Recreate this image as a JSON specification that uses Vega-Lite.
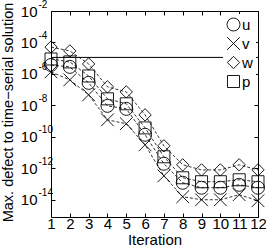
{
  "$schema": "https://vega.github.io/schema/vega-lite/v6.json",
  "width": 207,
  "height": 206,
  "autosize": "none",
  "padding": {"left": 51, "top": 11, "right": 8, "bottom": 29},
  "background": "white",
  "config": {
    "view": {"stroke": "black", "strokeWidth": 1},
    "font": "Liberation Sans",
    "axis": {"domain": false, "grid": false, "tickColor": "black", "labelColor": "black", "titleColor": "black", "labelFont": "Liberation Sans", "titleFont": "Liberation Sans", "titleFontWeight": "normal"}
  },
  "datasets": {
    "d": [
      {"iter": 1, "series": "u", "val": 3.7e-6}, {"iter": 2, "series": "u", "val": 2.8e-6}, {"iter": 3, "series": "u", "val": 2.7e-7}, {"iter": 4, "series": "u", "val": 9.3e-9}, {"iter": 5, "series": "u", "val": 6.0e-9}, {"iter": 6, "series": "u", "val": 1.35e-10}, {"iter": 7, "series": "u", "val": 1.95e-12}, {"iter": 8, "series": "u", "val": 1.2e-13}, {"iter": 9, "series": "u", "val": 5.8e-14}, {"iter": 10, "series": "u", "val": 5.8e-14}, {"iter": 11, "series": "u", "val": 8.9e-14}, {"iter": 12, "series": "u", "val": 5.8e-14},
      {"iter": 1, "series": "v", "val": 1.35e-6}, {"iter": 2, "series": "v", "val": 4.2e-7}, {"iter": 3, "series": "v", "val": 4.7e-8}, {"iter": 4, "series": "v", "val": 1.2e-9}, {"iter": 5, "series": "v", "val": 6.8e-10}, {"iter": 6, "series": "v", "val": 3.1e-11}, {"iter": 7, "series": "v", "val": 3.3e-13}, {"iter": 8, "series": "v", "val": 1.55e-14}, {"iter": 9, "series": "v", "val": 1.0e-14}, {"iter": 10, "series": "v", "val": 1.0e-14}, {"iter": 11, "series": "v", "val": 2.1e-14}, {"iter": 12, "series": "v", "val": 8.7e-15},
      {"iter": 1, "series": "w", "val": 5.1e-5}, {"iter": 2, "series": "w", "val": 2.9e-5}, {"iter": 3, "series": "w", "val": 4.3e-6}, {"iter": 4, "series": "w", "val": 1.5e-7}, {"iter": 5, "series": "w", "val": 7.2e-8}, {"iter": 6, "series": "w", "val": 2.5e-9}, {"iter": 7, "series": "w", "val": 2.7e-11}, {"iter": 8, "series": "w", "val": 1.66e-12}, {"iter": 9, "series": "w", "val": 7.9e-13}, {"iter": 10, "series": "w", "val": 7.9e-13}, {"iter": 11, "series": "w", "val": 1.66e-12}, {"iter": 12, "series": "w", "val": 7.9e-13},
      {"iter": 1, "series": "p", "val": 8.9e-6}, {"iter": 2, "series": "p", "val": 5.8e-6}, {"iter": 3, "series": "p", "val": 7.4e-7}, {"iter": 4, "series": "p", "val": 2.6e-8}, {"iter": 5, "series": "p", "val": 1.26e-8}, {"iter": 6, "series": "p", "val": 3.7e-10}, {"iter": 7, "series": "p", "val": 5.4e-12}, {"iter": 8, "series": "p", "val": 2.5e-13}, {"iter": 9, "series": "p", "val": 1.4e-13}, {"iter": 10, "series": "p", "val": 1.4e-13}, {"iter": 11, "series": "p", "val": 1.86e-13}, {"iter": 12, "series": "p", "val": 1.4e-13}
    ],
    "ref": [{"level": 1.12e-5}]
  },
  "layer": [
    {
      "data": {"name": "ref"},
      "mark": {"type": "rule", "color": "black", "strokeWidth": 1},
      "encoding": {
        "y": {"field": "level", "type": "quantitative", "scale": {"type": "log", "domain": [8e-16, 0.01], "nice": false},
          "axis": {"orient": "left", "values": [1e-14, 1e-12, 1e-10, 1e-8, 1e-6, 1e-4, 1e-2], "title": null, "ticks": false, "labelFontSize": 10, "labelPadding": 13, "labelAlign": "left", "labelOffset": -7,
            "labelExpr": "'-' + round(-log(datum.value) / LN10)"}}
      }
    },
    {
      "data": {"name": "d"},
      "mark": {"type": "line", "color": "black", "strokeWidth": 0.8, "strokeDash": [3, 2]},
      "encoding": {
        "x": {"field": "iter", "type": "quantitative", "scale": {"domain": [1, 12], "nice": false, "zero": false},
          "axis": {"orient": "bottom", "values": [1,2,3,4,5,6,7,8,9,10,11,12], "title": "Iteration", "labelFontSize": 15, "titleFontSize": 15, "tickSize": -4, "labelPadding": 3, "titleY": 27, "titleBaseline": "alphabetic", "labelFlush": false}},
        "y": {"field": "val", "type": "quantitative", "scale": {"type": "log", "domain": [8e-16, 0.01], "nice": false},
          "axis": {"orient": "left", "values": [1e-14, 1e-12, 1e-10, 1e-8, 1e-6, 1e-4, 1e-2], "title": "Max. defect to time−serial solution", "labelFontSize": 15, "titleFontSize": 14.5, "tickSize": -4, "labelPadding": 18,
            "titleX": -43, "titleY": 101, "titleAngle": -90, "titleAlign": "center", "titleBaseline": "middle",
            "labelExpr": "'10'"}},
        "detail": {"field": "series", "type": "nominal"}
      }
    },
    {
      "data": {"name": "d"},
      "mark": {"type": "point", "filled": false, "color": "black", "strokeWidth": 0.9, "opacity": 1},
      "encoding": {
        "x": {"field": "iter", "type": "quantitative", "axis": null},
        "y": {"field": "val", "type": "quantitative", "axis": null},
        "shape": {"field": "series", "type": "nominal",
          "scale": {"domain": ["u", "v", "w", "p"], "range": ["circle", "M-1,-1L1,1M-1,1L1,-1", "diamond", "square"]},
          "legend": {"orient": "none", "legendX": 172, "legendY": 3, "title": null, "labelFontSize": 15, "labelFont": "Liberation Sans", "labelColor": "black", "fillColor": "white", "padding": 3, "rowPadding": 2, "labelOffset": 1, "symbolStrokeColor": "black", "symbolStrokeWidth": 0.9}},
        "size": {"field": "series", "type": "nominal",
          "scale": {"domain": ["u", "v", "w", "p"], "range": [169, 144, 256, 144]}}
      }
    },
    {
      "data": {"name": "ref"},
      "mark": {"type": "rule", "opacity": 0},
      "encoding": {
        "x": {"datum": 1, "type": "quantitative", "axis": {"orient": "top", "values": [1,2,3,4,5,6,7,8,9,10,11,12], "labels": false, "title": null, "tickSize": -4}},
        "y": {"datum": 1e-2, "type": "quantitative", "axis": {"orient": "right", "values": [1e-14, 1e-12, 1e-10, 1e-8, 1e-6, 1e-4, 1e-2], "labels": false, "title": null, "tickSize": -4}}
      }
    }
  ],
  "resolve": {"axis": {"x": "independent", "y": "independent"}}
}
